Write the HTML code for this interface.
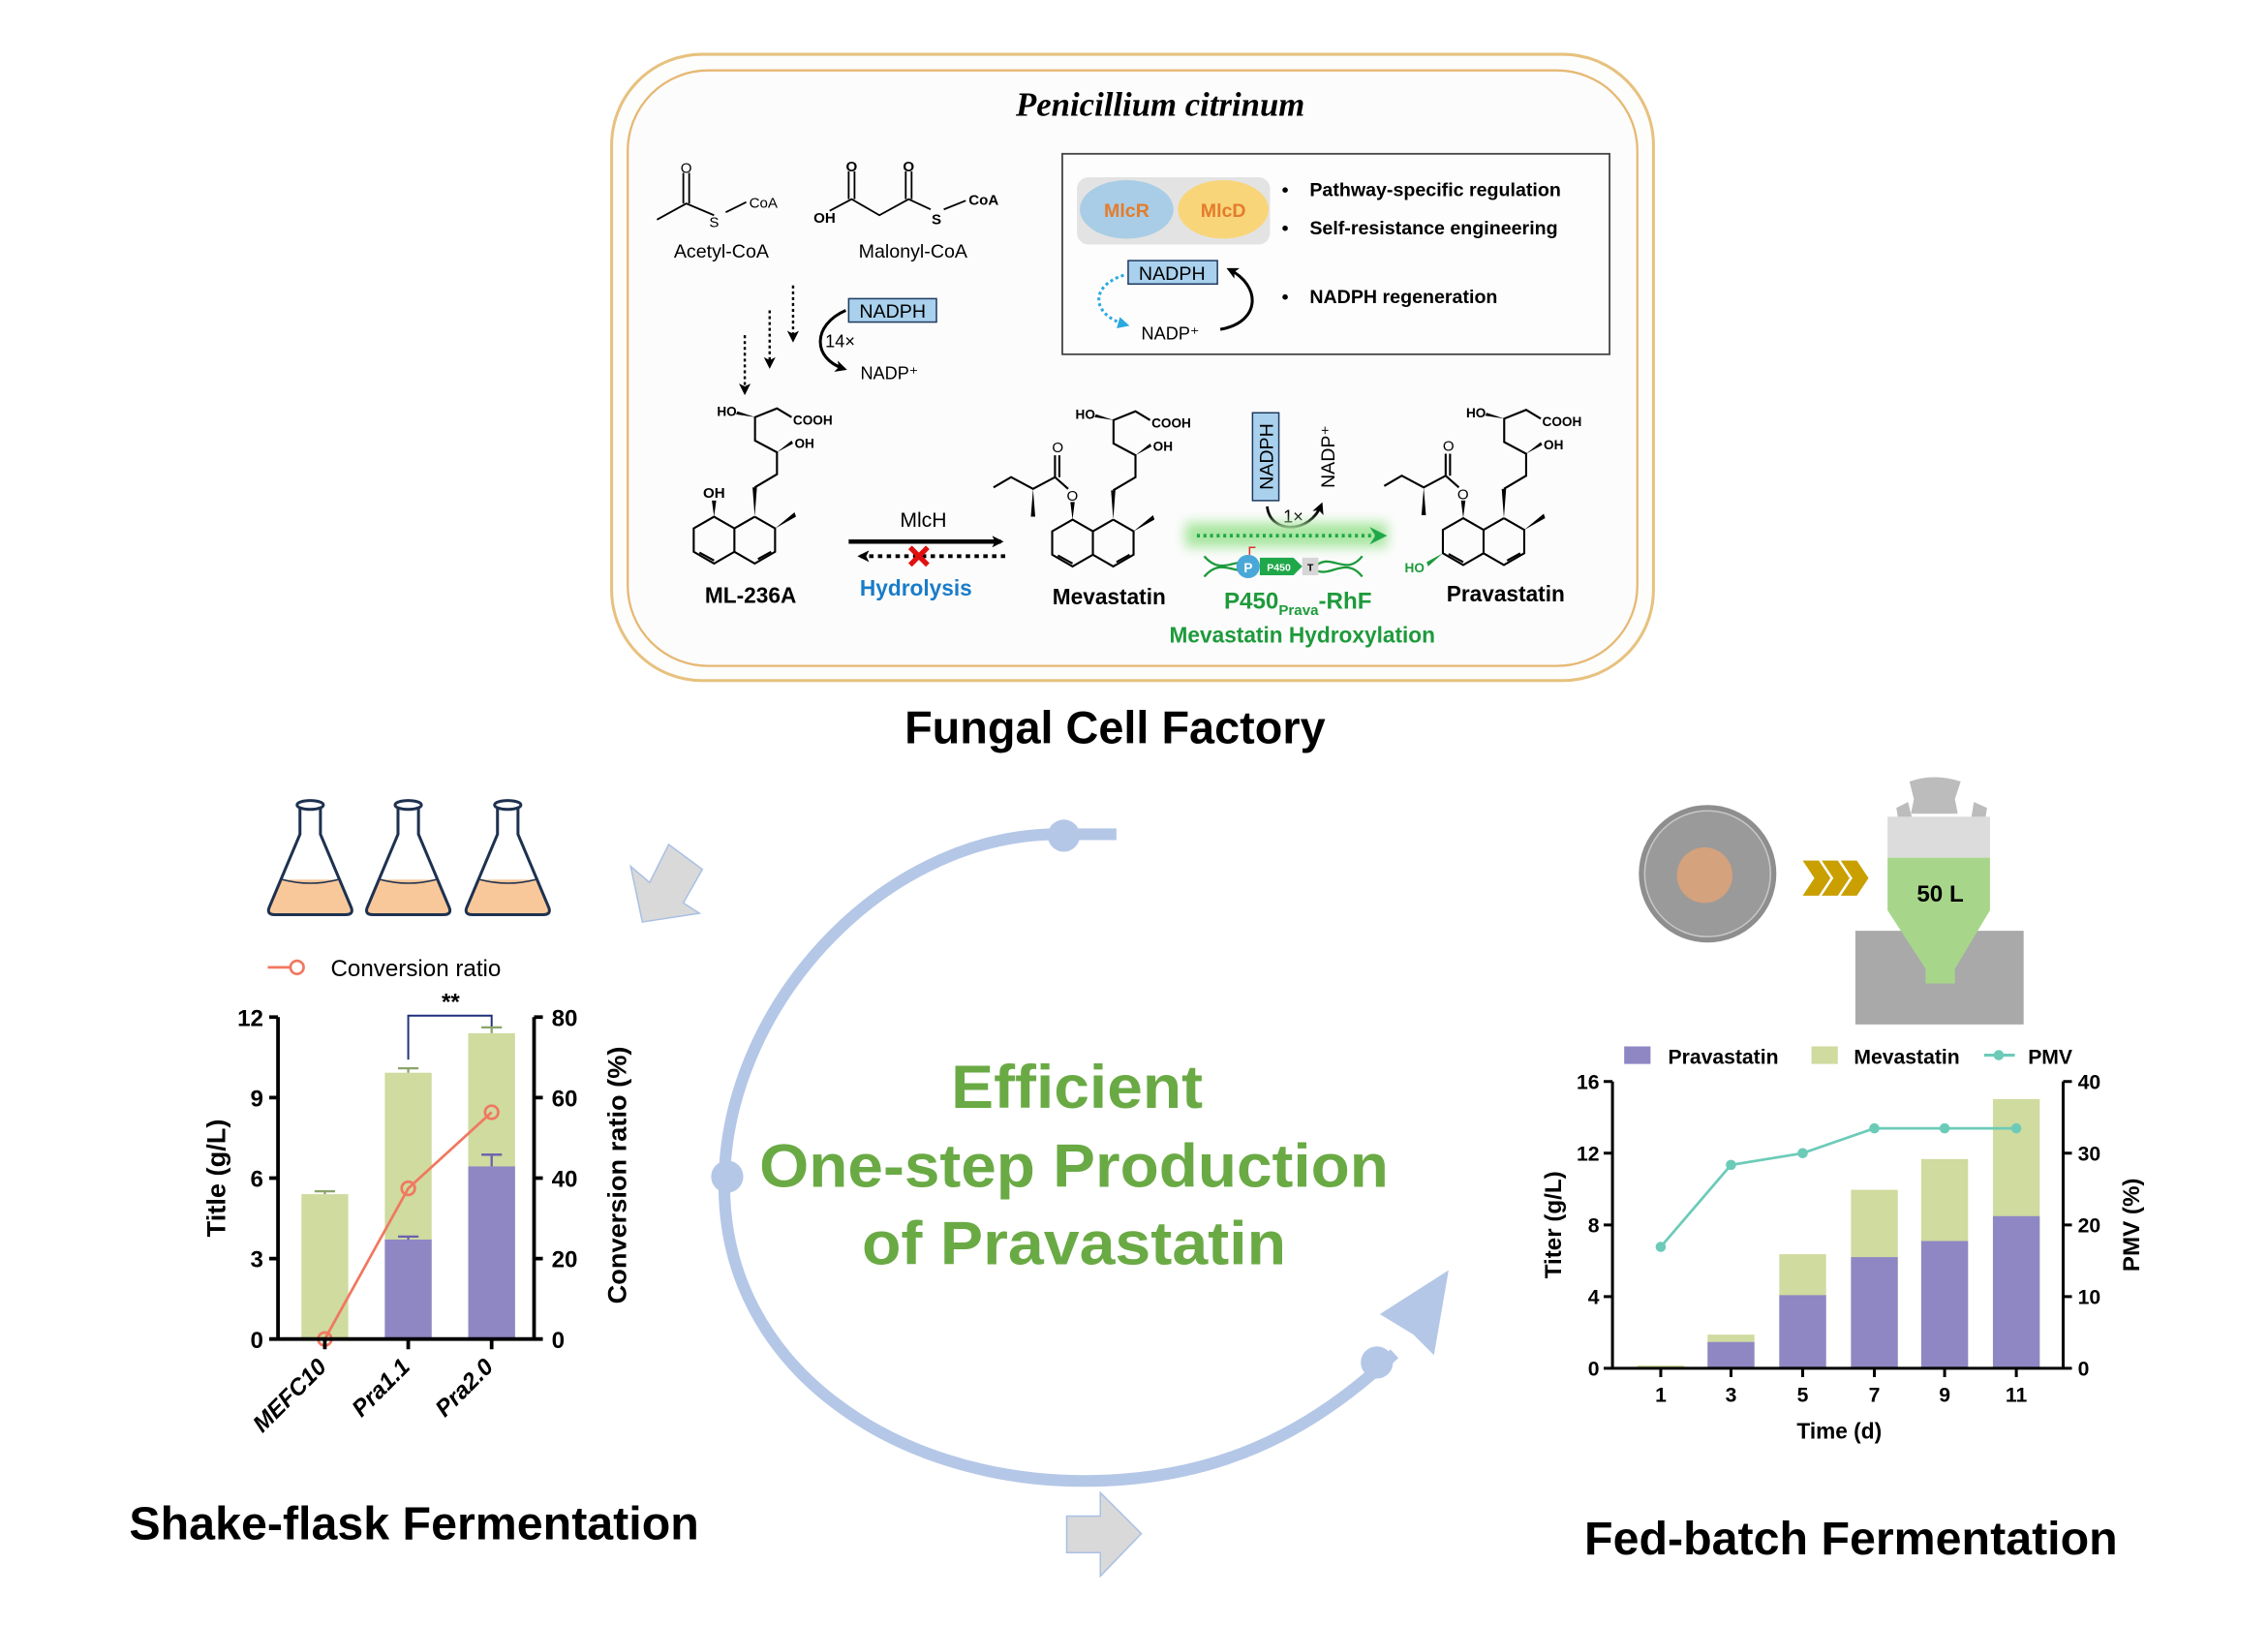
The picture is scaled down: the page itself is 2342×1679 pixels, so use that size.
<!DOCTYPE html>
<html><head><meta charset="utf-8"><style>
html,body{margin:0;padding:0;background:#fff;}
svg{display:block;}
text{font-family:"Liberation Sans",Arial,sans-serif;}
</style></head><body>
<svg width="2342" height="1679" viewBox="0 0 1550 1111" xmlns="http://www.w3.org/2000/svg">
<defs>
<marker id="ah" markerWidth="8" markerHeight="8" refX="6" refY="4" orient="auto" markerUnits="userSpaceOnUse"><path d="M0,0 L8,4 L0,8 L2,4z" fill="#000"/></marker>
<marker id="ahb" markerWidth="8" markerHeight="8" refX="6" refY="4" orient="auto" markerUnits="userSpaceOnUse"><path d="M0,0 L8,4 L0,8z" fill="#2aa9e0"/></marker>
<filter id="blur" x="-20%" y="-100%" width="140%" height="300%"><feGaussianBlur stdDeviation="4"/></filter>
<g id="ring">
<path d="M0,-16 L13.9,-8 L13.9,8 L0,16 L-13.9,8 L-13.9,-8 Z M27.8,-16 L41.7,-8 L41.7,8 L27.8,16 L13.9,8 M13.9,-8 L27.8,-16" fill="none" stroke="#000" stroke-width="1.4"/>
<path d="M-10,8.5 L0,14 M30,13 L39,8" stroke="#000" stroke-width="1.4"/>
<path d="M27.8,-16 L26.3,-36 L29.3,-36 Z" fill="#000"/>
<path d="M27.8,-36 L43,-45 L43,-60 L28,-68 L28,-84 L43,-90 L53,-84" fill="none" stroke="#000" stroke-width="1.4"/>
<path d="M41.7,-8 L56,-16 L55,-19 Z" fill="#000"/>
<path d="M43,-60 L54,-66 L53,-68 Z" fill="#000"/>
<path d="M28,-84 L16,-88 L15,-86 Z" fill="#000"/>
<text x="2" y="-85" font-size="9" font-weight="bold">HO</text>
<text x="54" y="-79" font-size="9" font-weight="bold">COOH</text>
<text x="55" y="-63" font-size="9" font-weight="bold">OH</text>
</g>
<g id="ester">
<path d="M0,-16 L-1.5,-28 L1.5,-28 Z" fill="#000"/>
<path d="M-3,-37 L-12,-45 L-27,-37 L-42,-45 L-54,-38 M-12,-45 L-12,-60 M-9,-45 L-9,-60" fill="none" stroke="#000" stroke-width="1.4"/>
<path d="M-27,-37 L-28.5,-18 L-25.5,-18 Z" fill="#000"/>
<text x="-4" y="-29" font-size="10">O</text>
<text x="-14" y="-62" font-size="10">O</text>
</g>
<g id="fl">
<path d="M-19,601 L19,601 L28,620 Q30,625 24,625 L-24,625 Q-30,625 -28,620 Z" fill="#f9c89a" stroke="none"/>
<path d="M-7,551 L-7,570 L-28,620 Q-30,625 -24,625 L24,625 Q30,625 28,620 L7,570 L7,551" />
<ellipse cx="0" cy="550" rx="9" ry="3" fill="#fff"/>
<path d="M-19,601 Q0,606 19,601" stroke-width="1"/>
</g>
</defs>
<rect width="1550" height="1111" fill="#fff"/>

<rect x="418" y="37" width="712" height="428" rx="62" fill="#fdfdfc" stroke="#e7c17e" stroke-width="2"/>
<rect x="429" y="48" width="690" height="407" rx="55" fill="#fcfcfc" stroke="#e6b873" stroke-width="1.5"/>
<text x="793" y="79" font-size="23" font-weight="bold" font-style="italic" text-anchor="middle" style="font-family:'Liberation Serif',serif">Penicillium citrinum</text>

<path d="M449,150 L469,139 L488,147 M467,139 L467,118 M471,139 L471,118 M496,145 L510,138" fill="none" stroke="#000" stroke-width="1.2"/>
<text x="469" y="118" font-size="10" text-anchor="middle">O</text>
<text x="488" y="155" font-size="10" text-anchor="middle">S</text>
<text x="512" y="142" font-size="10">CoA</text>
<text x="493" y="176" font-size="13" text-anchor="middle">Acetyl-CoA</text>
<path d="M567,144 L582,136 L601,147 L621,136 L636,143 M580,136 L580,117 M584,136 L584,117 M619,136 L619,117 M623,136 L623,117 M645,143 L660,137" fill="none" stroke="#000" stroke-width="1.2"/>
<text x="582" y="117" font-size="10" text-anchor="middle" font-weight="bold">O</text>
<text x="621" y="117" font-size="10" text-anchor="middle" font-weight="bold">O</text>
<text x="556" y="152" font-size="10" font-weight="bold">OH</text>
<text x="640" y="153" font-size="10" text-anchor="middle" font-weight="bold">S</text>
<text x="662" y="140" font-size="10" font-weight="bold">CoA</text>
<text x="624" y="176" font-size="13" text-anchor="middle">Malonyl-CoA</text>

<g stroke="#000" stroke-width="1.6" stroke-dasharray="2,2" fill="none" marker-end="url(#ah)">
<path d="M509,229 L509,268"/><path d="M526,212 L526,250"/><path d="M542,195 L542,232"/>
</g>
<rect x="580" y="204" width="60" height="16" fill="#a9d1ee" stroke="#1e3a5f" stroke-width="1"/>
<text x="610" y="217" font-size="13" text-anchor="middle">NADPH</text>
<path d="M578,212 C555,222 555,245 577,252" fill="none" stroke="#000" stroke-width="2" marker-end="url(#ah)"/>
<text x="564" y="237" font-size="12">14×</text>
<text x="588" y="259" font-size="12">NADP⁺</text>

<rect x="726" y="105" width="374" height="137" fill="#fdfdfd" stroke="#444" stroke-width="1.2"/>
<rect x="736" y="121" width="132" height="46" rx="8" fill="#e3e3e3"/>
<ellipse cx="770" cy="143" rx="32" ry="20" fill="#a9cde6"/>
<ellipse cx="836" cy="143" rx="31" ry="20" fill="#f9d57a"/>
<text x="770" y="148" font-size="13" font-weight="bold" fill="#e47c2c" text-anchor="middle">MlcR</text>
<text x="836" y="148" font-size="13" font-weight="bold" fill="#e47c2c" text-anchor="middle">MlcD</text>
<g font-size="13" font-weight="bold">
<text x="876" y="134">•</text><text x="895" y="134">Pathway-specific regulation</text>
<text x="876" y="160">•</text><text x="895" y="160">Self-resistance engineering</text>
<text x="876" y="207">•</text><text x="895" y="207">NADPH regeneration</text>
</g>
<rect x="771" y="178" width="61" height="16" fill="#a9d1ee" stroke="#1e3a5f" stroke-width="1"/>
<text x="801" y="191" font-size="13" text-anchor="middle">NADPH</text>
<text x="780" y="232" font-size="12">NADP⁺</text>
<path d="M768,188 C745,195 745,215 770,222" fill="none" stroke="#2aa9e0" stroke-width="2" stroke-dasharray="2,2" marker-end="url(#ahb)"/>
<path d="M834,225 C862,220 862,195 840,184" fill="none" stroke="#000" stroke-width="2" marker-end="url(#ah)"/>

<use href="#ring" x="488" y="369"/>
<path d="M488,353 L486.5,342 L489.5,342 Z" fill="#000"/>
<text x="488" y="340" font-size="10" text-anchor="middle" font-weight="bold">OH</text>
<text x="513" y="412" font-size="15" font-weight="bold" text-anchor="middle">ML-236A</text>

<use href="#ring" x="733" y="371"/>
<use href="#ester" x="733" y="371"/>
<text x="758" y="413" font-size="15" font-weight="bold" text-anchor="middle">Mevastatin</text>

<use href="#ring" x="1000" y="370"/>
<use href="#ester" x="1000" y="370"/>
<path d="M986.1,378 L975,384 L976,387 Z" fill="#1e9a3b"/>
<text x="960" y="391" font-size="9" font-weight="bold" fill="#1e9a3b">HO</text>
<text x="1029" y="411" font-size="15" font-weight="bold" text-anchor="middle">Pravastatin</text>

<text x="631" y="360" font-size="14" text-anchor="middle">MlcH</text>
<path d="M580,370 L684,370" stroke="#000" stroke-width="3" marker-end="url(#ah)"/>
<path d="M687,380 L588,380" stroke="#000" stroke-width="2.5" stroke-dasharray="3,3" marker-end="url(#ah)"/>
<path d="M622,374 L634,386 M634,374 L622,386" stroke="#e01010" stroke-width="3.5"/>
<text x="626" y="407" font-size="15" font-weight="bold" fill="#1a7cc8" text-anchor="middle">Hydrolysis</text>

<rect x="856" y="282" width="18" height="60" fill="#a9d1ee" stroke="#1e3a5f" stroke-width="1"/>
<text transform="translate(870,312) rotate(-90)" font-size="13" text-anchor="middle">NADPH</text>
<text transform="translate(912,312) rotate(-90)" font-size="13" text-anchor="middle">NADP⁺</text>
<path d="M866,346 C868,365 895,365 903,345" fill="none" stroke="#000" stroke-width="1.8" marker-end="url(#ah)"/>
<text x="877" y="357" font-size="12">1×</text>
<rect x="810" y="357" width="138" height="17" fill="#a8e6a0" filter="url(#blur)"/>
<path d="M818,366 L940,366" stroke="#1fa84a" stroke-width="2.5" stroke-dasharray="2,2.5"/>
<path d="M936,360 L948,366 L936,372 L940,366 Z" fill="#1fa84a"/>
<path d="M823,380 C835,394 845,380 852,386 M823,394 C835,380 845,394 852,388 M900,386 C910,378 920,394 931,380 M900,390 C910,394 920,380 931,394" fill="none" stroke="#1e9a3b" stroke-width="1.5"/>
<circle cx="853" cy="387" r="8" fill="#4aa8d8"/>
<text x="853" y="391" font-size="9" fill="#fff" text-anchor="middle" font-weight="bold">P</text>
<path d="M854,379 L854,374 L858,374" fill="none" stroke="#e03030" stroke-width="1"/>
<path d="M861,381 L884,381 L890,387 L884,393 L861,393 Z" fill="#1fa84a"/>
<text x="874" y="390" font-size="7" fill="#fff" text-anchor="middle" font-weight="bold">P450</text>
<rect x="890" y="381" width="11" height="12" fill="#d6d6d6"/>
<text x="895.5" y="390" font-size="7" text-anchor="middle" font-weight="bold">T</text>
<text x="887" y="416" font-size="16" font-weight="bold" fill="#1e9a3b" text-anchor="middle">P450<tspan font-size="10" dy="4">Prava</tspan><tspan dy="-4">-RhF</tspan></text>
<text x="890" y="439" font-size="15" font-weight="bold" fill="#1e9a3b" text-anchor="middle">Mevastatin Hydroxylation</text>

<text x="762" y="508" font-size="31" font-weight="bold" text-anchor="middle">Fungal Cell Factory</text>

<path d="M763,570 L719,570 C600,573 495,690 495,810 C495,935 612,1012 741,1012 C830,1012 895,980 953,925" fill="none" stroke="#b4c7e7" stroke-width="8"/>
<circle cx="727" cy="571" r="11" fill="#b4c7e7"/>
<circle cx="497" cy="804" r="11" fill="#b4c7e7"/>
<circle cx="941" cy="931" r="11" fill="#b4c7e7"/>
<path d="M990,868 L980,926 L966,912 L943,898 Z" fill="#b4c7e7"/>
<path d="M431,592 L439,630 L478,624 L467,617 L480,594 L457,577 L444,603 Z" fill="#d9d9d9" stroke="#a9c0e4" stroke-width="1"/>
<path d="M729,1036 L752,1036 L752,1020 L780,1048 L752,1077 L752,1061 L729,1061 Z" fill="#d9d9d9" stroke="#a9c0e4" stroke-width="1"/>
<g font-weight="bold" fill="#6aaa45" text-anchor="middle" font-size="42">
<text x="736" y="757" textLength="172" lengthAdjust="spacingAndGlyphs">Efficient</text>
<text x="734" y="811" textLength="430" lengthAdjust="spacingAndGlyphs">One-step Production</text>
<text x="734" y="864" textLength="290" lengthAdjust="spacingAndGlyphs">of Pravastatin</text>
</g>

<g stroke="#1e3150" stroke-width="2" fill="none">
<use href="#fl" x="212"/><use href="#fl" x="279"/><use href="#fl" x="347"/>
</g>

<path d="M183,661 L208,661" stroke="#f07860" stroke-width="1.8"/><circle cx="203" cy="661" r="4.5" fill="#fff" stroke="#f07860" stroke-width="1.8"/>
<text x="226" y="667" font-size="16">Conversion ratio</text>
<text x="308" y="690" font-size="16" font-weight="bold" text-anchor="middle">**</text>
<path d="M279,724 L279,694 L336,694 L336,702" fill="none" stroke="#1f2f7a" stroke-width="1.3"/>
<rect x="206" y="816" width="32" height="99" fill="#cfdb9f"/>
<rect x="263" y="733" width="32" height="182" fill="#cfdb9f"/>
<rect x="263" y="847" width="32" height="68" fill="#8e87c4"/>
<rect x="320" y="706" width="32" height="209" fill="#cfdb9f"/>
<rect x="320" y="797" width="32" height="118" fill="#8e87c4"/>
<path d="M215,814 L229,814 M222,814 L222,816 M272,730 L286,730 M279,730 L279,733 M329,702 L343,702 M336,702 L336,706" stroke="#8aa46a" stroke-width="1.5"/>
<path d="M272,845 L286,845 M329,789 L343,789 M336,789 L336,797 M279,845 L279,847" stroke="#6a5fb0" stroke-width="1.5"/>
<path d="M222,915 L279,812 L336,760" fill="none" stroke="#f07860" stroke-width="1.8"/>
<g fill="none" stroke="#f07860" stroke-width="1.8"><circle cx="222" cy="915" r="4.5"/><circle cx="279" cy="812" r="4.5"/><circle cx="336" cy="760" r="4.5"/></g>
<path d="M190,695 L190,915 L365,915 L365,695 M184,695 L190,695 M184,750 L190,750 M184,805 L190,805 M184,860 L190,860 M184,915 L190,915 M365,695 L371,695 M365,750 L371,750 M365,805 L371,805 M365,860 L371,860 M365,915 L371,915 M222,915 L222,922 M279,915 L279,922 M336,915 L336,922" fill="none" stroke="#000" stroke-width="2.5"/>
<g font-size="16" font-weight="bold">
<g text-anchor="end"><text x="180" y="701">12</text><text x="180" y="756">9</text><text x="180" y="811">6</text><text x="180" y="866">3</text><text x="180" y="921">0</text></g>
<text x="377" y="701">80</text><text x="377" y="756">60</text><text x="377" y="811">40</text><text x="377" y="866">20</text><text x="377" y="921">0</text>
<text transform="translate(224,935) rotate(-45)" text-anchor="end" font-style="italic">MEFC10</text>
<text transform="translate(281,935) rotate(-45)" text-anchor="end" font-style="italic">Pra1.1</text>
<text transform="translate(338,935) rotate(-45)" text-anchor="end" font-style="italic">Pra2.0</text>
<text transform="translate(154,805) rotate(-90)" text-anchor="middle" font-size="18">Title (g/L)</text>
<text transform="translate(428,803) rotate(-90)" text-anchor="middle" font-size="18">Conversion ratio (%)</text>
</g>
<text x="283" y="1052" font-size="32" font-weight="bold" text-anchor="middle">Shake-flask Fermentation</text>

<circle cx="1167" cy="597" r="47" fill="#8e8e8e"/>
<circle cx="1167" cy="597" r="43" fill="#9a9a9a" stroke="#c8c8c8" stroke-width="1"/>
<circle cx="1165" cy="598" r="19" fill="#d4a27c"/>
<g fill="#c9a000">
<path d="M1232,588 L1243,588 L1251,600 L1243,612 L1232,612 L1240,600 Z"/>
<path d="M1245,588 L1256,588 L1264,600 L1256,612 L1245,612 L1253,600 Z"/>
<path d="M1258,588 L1269,588 L1277,600 L1269,612 L1258,612 L1266,600 Z"/>
</g>
<rect x="1268" y="636" width="115" height="64" fill="#a9a9a9"/>
<path d="M1305,534 Q1322,528 1340,534 L1336,546 L1338,556 L1306,556 L1308,546 Z" fill="#bcbcbc"/>
<path d="M1296,552 L1304,548 L1307,560 L1298,564 Z M1349,548 L1358,552 L1356,564 L1347,560 Z" fill="#bcbcbc"/>
<rect x="1290" y="558" width="70" height="28" fill="#dcdcdc"/>
<path d="M1290,586 L1360,586 L1360,622 L1336,662 L1336,672 L1316,672 L1316,662 L1290,622 Z" fill="#a7d68a"/>
<text x="1326" y="616" font-size="16" font-weight="bold" text-anchor="middle">50 L</text>

<rect x="1110" y="715" width="18" height="12" fill="#8e87c4"/>
<text x="1140" y="727" font-size="14" font-weight="bold">Pravastatin</text>
<rect x="1238" y="715" width="18" height="12" fill="#cfdb9f"/>
<text x="1267" y="727" font-size="14" font-weight="bold">Mevastatin</text>
<path d="M1356,721 L1377,721" stroke="#6ccbb8" stroke-width="2"/><circle cx="1366" cy="721" r="3.5" fill="#6ccbb8"/>
<text x="1386" y="727" font-size="14" font-weight="bold">PMV</text>
<g fill="#cfdb9f">
<rect x="1119" y="933" width="32" height="2"/>
<rect x="1167" y="912" width="32" height="23"/>
<rect x="1216" y="857" width="32" height="78"/>
<rect x="1265" y="813" width="32" height="122"/>
<rect x="1313" y="792" width="32" height="143"/>
<rect x="1362" y="751" width="32" height="184"/>
</g>
<g fill="#8e87c4">
<rect x="1167" y="917" width="32" height="18"/>
<rect x="1216" y="885" width="32" height="50"/>
<rect x="1265" y="859" width="32" height="76"/>
<rect x="1313" y="848" width="32" height="87"/>
<rect x="1362" y="831" width="32" height="104"/>
</g>
<path d="M1135,852 L1183,796 L1232,788 L1281,771 L1329,771 L1378,771" fill="none" stroke="#6ccbb8" stroke-width="1.8"/>
<g fill="#6ccbb8"><circle cx="1135" cy="852" r="3.5"/><circle cx="1183" cy="796" r="3.5"/><circle cx="1232" cy="788" r="3.5"/><circle cx="1281" cy="771" r="3.5"/><circle cx="1329" cy="771" r="3.5"/><circle cx="1378" cy="771" r="3.5"/></g>
<path d="M1102,739 L1102,935 L1410,935 L1410,739 M1096,739 L1102,739 M1096,788 L1102,788 M1096,837 L1102,837 M1096,886 L1102,886 M1096,935 L1102,935 M1410,739 L1416,739 M1410,788 L1416,788 M1410,837 L1416,837 M1410,886 L1416,886 M1410,935 L1416,935 M1135,935 L1135,941 M1183,935 L1183,941 M1232,935 L1232,941 M1281,935 L1281,941 M1329,935 L1329,941 M1378,935 L1378,941" fill="none" stroke="#000" stroke-width="2"/>
<g font-size="14" font-weight="bold">
<g text-anchor="end"><text x="1093" y="744">16</text><text x="1093" y="793">12</text><text x="1093" y="842">8</text><text x="1093" y="891">4</text><text x="1093" y="940">0</text></g>
<text x="1420" y="744">40</text><text x="1420" y="793">30</text><text x="1420" y="842">20</text><text x="1420" y="891">10</text><text x="1420" y="940">0</text>
<g text-anchor="middle"><text x="1135" y="958">1</text><text x="1183" y="958">3</text><text x="1232" y="958">5</text><text x="1281" y="958">7</text><text x="1329" y="958">9</text><text x="1378" y="958">11</text>
<text x="1257" y="983" font-size="15">Time (d)</text>
<text transform="translate(1067,837) rotate(-90)" font-size="16">Titer (g/L)</text>
<text transform="translate(1462,837) rotate(-90)" font-size="16">PMV (%)</text></g>
</g>
<text x="1265" y="1062" font-size="32" font-weight="bold" text-anchor="middle">Fed-batch Fermentation</text>
</svg>
</body></html>
